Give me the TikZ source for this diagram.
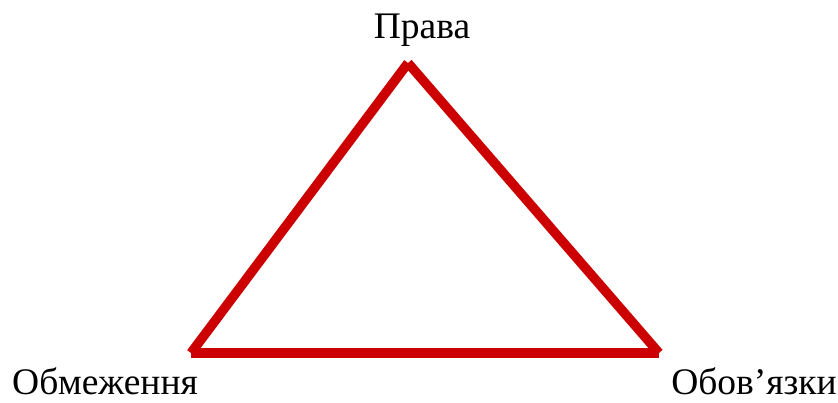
\documentclass[tikz,border=0pt]{standalone}
\usepackage{fontspec}
\setmainfont{Liberation Serif}
\definecolor{tri}{HTML}{CC0000}
\begin{document}
\begin{tikzpicture}[x=1pt,y=-1pt,
  side/.style={draw=tri,line width=9.5pt,line cap=butt},
  lbl/.style={font=\fontsize{37.5}{42}\selectfont,anchor=base,inner sep=0pt}]
\useasboundingbox (0,0) rectangle (838,403);
\coordinate (apex) at (408,63);
\coordinate (bl) at (191,353);
\coordinate (br) at (659,353);
\draw[side] (bl) -- (apex);
\draw[side] (apex) -- (br);
\draw[side] (bl) -- (br);
\node[lbl] (top) at (422,39) {Права};
\node[lbl] (left) at (105,394) {Обмеження};
\node[lbl] (right) at (754,394) {Обов’язки};
\end{tikzpicture}
\end{document}
